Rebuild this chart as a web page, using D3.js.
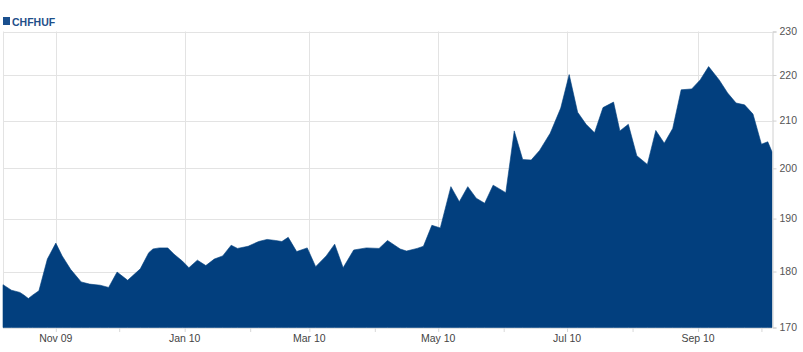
<!DOCTYPE html>
<html>
<head>
<meta charset="utf-8">
<script src="https://cdn.jsdelivr.net/npm/d3@7"></script>
<style>
  html, body { margin: 0; padding: 0; background: #ffffff; }
  svg { display: block; }
  text { font-family: "Liberation Sans", Arial, sans-serif; }
</style>
</head>
<body>
<svg id="chart" width="803" height="352"></svg>
<script>
// ---- data ----
const seriesName = "CHFHUF";
const dates = [
  "2009-10-07","2009-10-11","2009-10-15","2009-10-17","2009-10-19","2009-10-21","2009-10-24","2009-10-28",
  "2009-11-01","2009-11-04","2009-11-08","2009-11-13","2009-11-17","2009-11-22","2009-11-26","2009-11-30",
  "2009-12-05","2009-12-11","2009-12-15","2009-12-17","2009-12-20","2009-12-24","2009-12-27","2009-12-31",
  "2010-01-03","2010-01-07","2010-01-11","2010-01-15","2010-01-19","2010-01-23","2010-01-26","2010-01-31",
  "2010-02-05","2010-02-09","2010-02-13","2010-02-16","2010-02-19","2010-02-23","2010-02-28",
  "2010-03-04","2010-03-09","2010-03-13","2010-03-17","2010-03-22","2010-03-28",
  "2010-04-03","2010-04-07","2010-04-13","2010-04-16","2010-04-21","2010-04-24","2010-04-28",
  "2010-05-02","2010-05-07","2010-05-11","2010-05-15","2010-05-19","2010-05-23","2010-05-27",
  "2010-06-02","2010-06-06","2010-06-10","2010-06-14","2010-06-18","2010-06-23","2010-06-28",
  "2010-07-02","2010-07-06","2010-07-10","2010-07-14","2010-07-18","2010-07-23","2010-07-26","2010-07-30",
  "2010-08-03","2010-08-08","2010-08-12","2010-08-16","2010-08-20","2010-08-24","2010-08-29",
  "2010-09-02","2010-09-06","2010-09-11","2010-09-15","2010-09-19","2010-09-23","2010-09-27",
  "2010-10-01","2010-10-04","2010-10-06"
];
const values = [
  177.6,176.6,176.2,175.7,175.1,175.7,176.5,182.3,
  185.3,182.9,180.4,178.1,177.7,177.5,177.1,179.9,
  178.4,180.5,183.5,184.2,184.4,184.4,183.2,181.9,
  180.7,182.1,181.1,182.3,182.9,184.9,184.3,184.7,
  185.6,186.0,185.8,185.6,186.4,183.7,184.4,
  180.9,182.9,185.1,180.7,184.0,184.4,
  184.3,185.8,184.2,183.8,184.3,184.7,188.7,
  188.2,196.3,193.3,196.3,194.0,193.0,196.6,
  195.1,207.8,201.8,201.7,203.7,207.3,212.7,
  220.1,211.8,209.2,207.4,212.8,214.0,207.8,209.2,
  202.6,200.8,207.9,205.2,208.3,216.7,216.9,
  218.9,221.9,218.9,216.0,213.8,213.4,211.4,
  205.0,205.5,203.4
];
const yTicks = [170, 180, 190, 200, 210, 220, 230];
const xLabelDates = ["2009-11-01","2010-01-01","2010-03-01","2010-05-01","2010-07-01","2010-09-01"];
const xLabels = ["Nov 09","Jan 10","Mar 10","May 10","Jul 10","Sep 10"];
const xDomain = ["2009-10-07","2010-10-06"];
const yDomain = [170, 230];

// ---- chart ----
(function () {
const parse = d3.timeParse("%Y-%m-%d");
const data = dates.map((d, i) => ({ date: parse(d), value: values[i] }));

const pLeft = 3, pRight = 772, pTop = 31.5, pBottom = 327.5;
const svg = d3.select("#chart");

const x = d3.scaleTime().domain(xDomain.map(parse)).range([pLeft, pRight]);
const y = d3.scaleLog().domain(yDomain).range([pBottom, pTop]);

const gridColor = "#e3e3e3";

// horizontal grid
svg.append("g").selectAll("line").data(yTicks).join("line")
  .attr("x1", pLeft).attr("x2", pRight)
  .attr("y1", d => Math.round(y(d)) + 0.5).attr("y2", d => Math.round(y(d)) + 0.5)
  .attr("stroke", gridColor).attr("stroke-width", 1);

// vertical grid at labelled months
svg.append("g").selectAll("line").data(xLabelDates.map(parse)).join("line")
  .attr("x1", d => Math.round(x(d)) + 0.5).attr("x2", d => Math.round(x(d)) + 0.5)
  .attr("y1", pTop).attr("y2", pBottom)
  .attr("stroke", gridColor).attr("stroke-width", 1);

// left border
svg.append("line")
  .attr("x1", pLeft + 0.5).attr("x2", pLeft + 0.5).attr("y1", pTop).attr("y2", pBottom)
  .attr("stroke", gridColor);

// area
const area = d3.area()
  .x(d => x(d.date))
  .y0(pBottom)
  .y1(d => y(d.value));
svg.append("path").datum(data)
  .attr("d", area)
  .attr("fill", "#023f7e")
  .attr("stroke", "#023f7e")
  .attr("stroke-width", 0.6);

// right axis
const yAxis = d3.axisRight(y).tickValues(yTicks).tickFormat(d3.format("d")).tickSize(4).tickPadding(3);
const gy = svg.append("g").attr("transform", `translate(${pRight + 0.5},0)`).call(yAxis);
gy.select(".domain").attr("stroke", "#d0d0d0");
gy.selectAll(".tick line").attr("stroke", "#d0d0d0");
gy.selectAll(".tick text").attr("fill", "#555").style("font-size", "10.5px")
  .style("font-family", "'Liberation Sans', Arial, sans-serif");

// bottom axis: month ticks
const months = d3.timeMonth.range(parse("2009-11-01"), parse("2010-10-07"));
const xAxis = d3.axisBottom(x).tickValues(months).tickSize(4).tickFormat(() => "");
const gx = svg.append("g").attr("transform", `translate(0,${pBottom + 0.5})`).call(xAxis);
gx.select(".domain").remove();
gx.selectAll(".tick line").attr("stroke", "#d8d8d8");

// x labels
svg.append("g").selectAll("text").data(xLabelDates).join("text")
  .attr("x", d => x(parse(d)))
  .attr("y", 342)
  .attr("text-anchor", "middle")
  .attr("fill", "#444")
  .style("font-size", "10.5px")
  .text((d, i) => xLabels[i]);

// legend
svg.append("rect").attr("x", 3).attr("y", 17).attr("width", 7).attr("height", 8).attr("fill", "#1a4f8e");
svg.append("text").attr("x", 12).attr("y", 25.5)
  .attr("fill", "#1f4f8a").style("font-size", "10.5px").style("font-weight", "bold")
  .text(seriesName);
})();
</script>
</body>
</html>
